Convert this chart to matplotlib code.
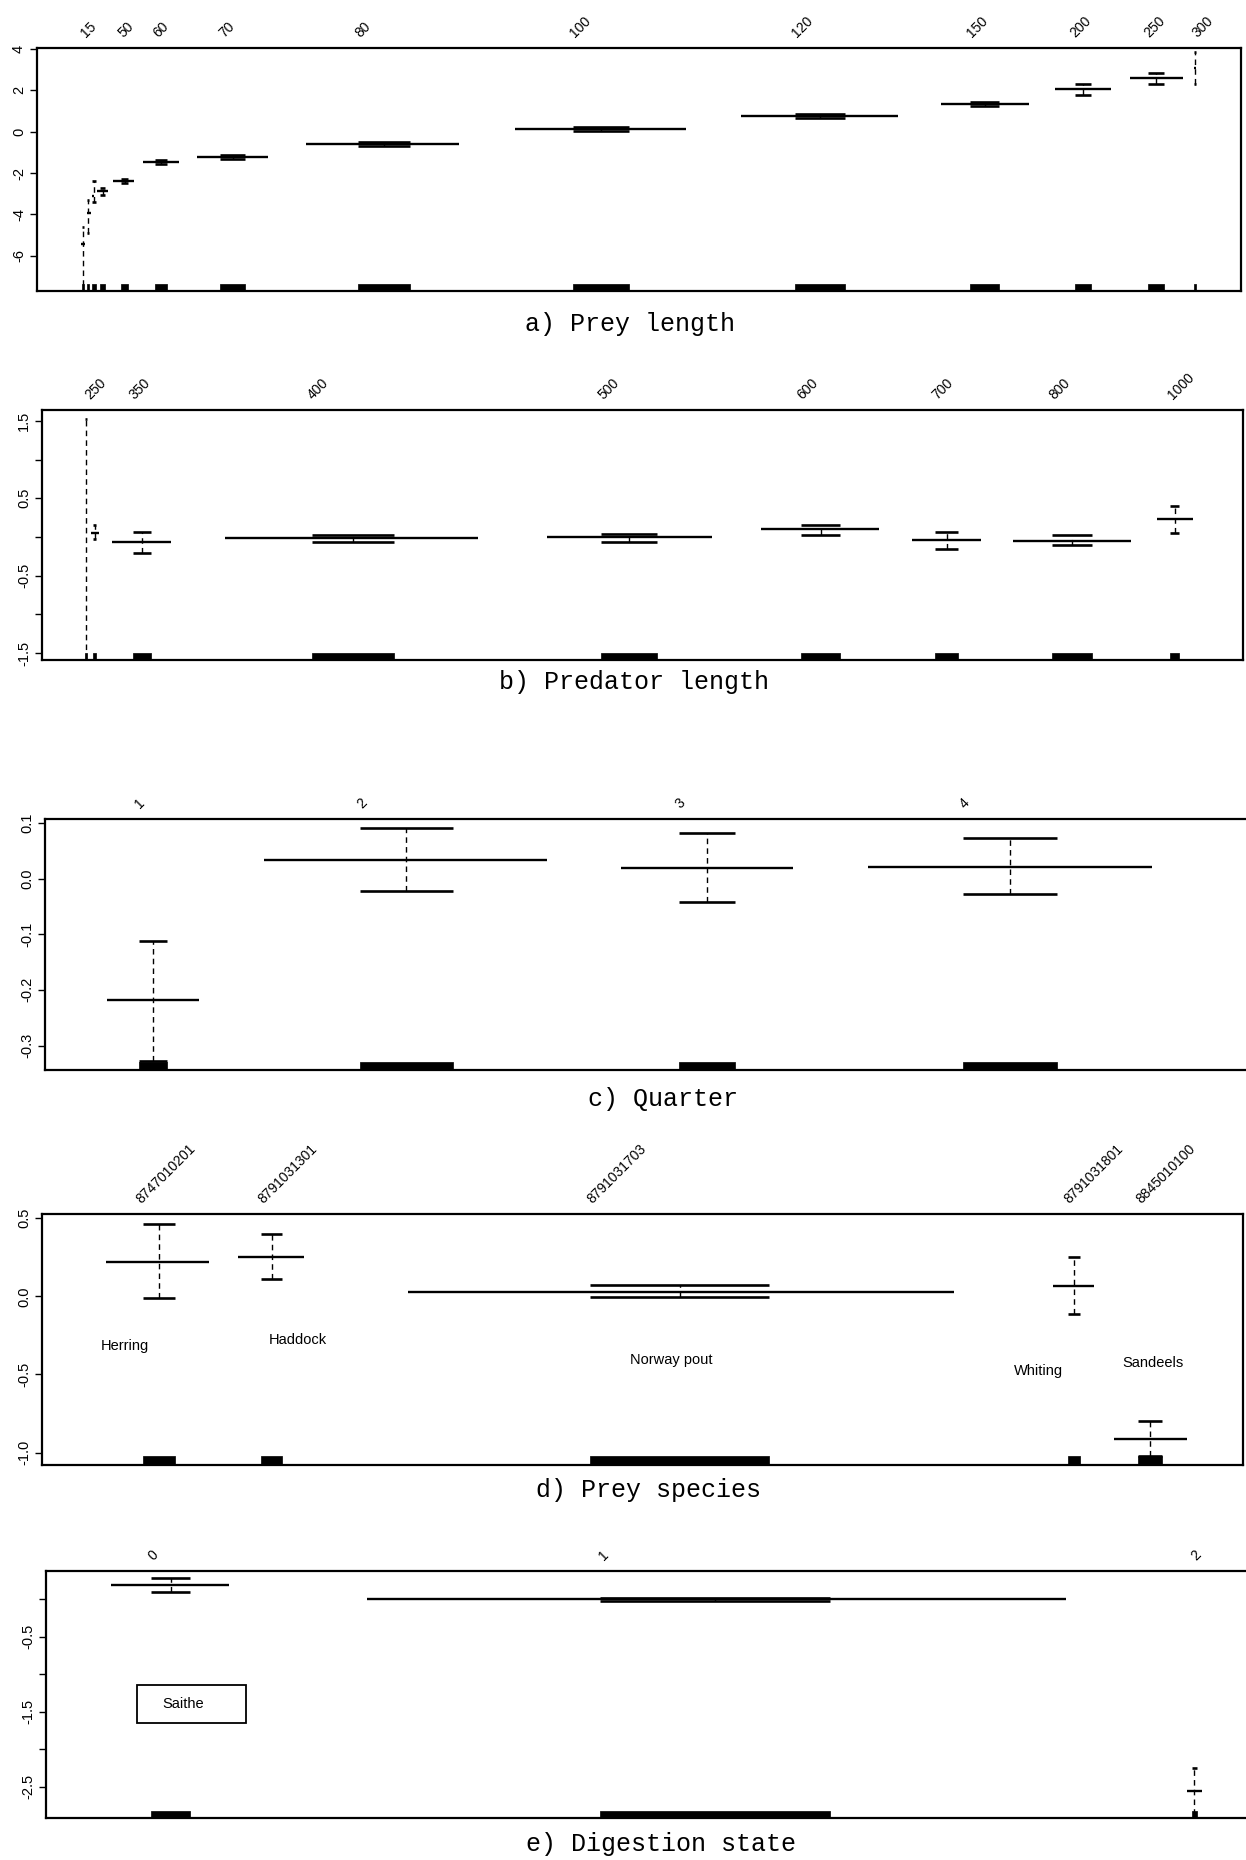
import matplotlib
matplotlib.use("Agg")
import matplotlib.pyplot as plt
from matplotlib.patches import Rectangle
import numpy as np

plt.rcParams["font.family"] = ["Liberation Sans", "DejaVu Sans"]

# ---------------- data (x = position on each panel's cumulative level scale) -------------
# a) Prey length
a_tick_pos = [89, 126, 161, 227, 363, 580, 802, 977, 1081, 1155, 1203]
a_tick_lab = ["15", "50", "60", "70", "80", "100", "120", "150", "200", "250", "300"]
a_eff = [-5.45, -3.95, -3.10, -2.86, -2.40, -1.48, -1.22, -0.60, 0.13, 0.78, 1.36, 2.07, 2.60, 3.08]
a_lo = [-7.90, -4.90, -3.40, -3.05, -2.50, -1.58, -1.32, -0.70, 0.03, 0.68, 1.26, 1.79, 2.32, 2.31]
a_hi = [-4.60, -3.30, -2.40, -2.72, -2.28, -1.38, -1.12, -0.50, 0.23, 0.88, 1.46, 2.33, 2.84, 3.86]
a_line_lo = [81, 87, 92, 97, 113, 143, 197, 306, 515, 741, 941, 1055, 1130, 1194]
a_line_hi = [85, 91, 94, 108, 134, 179, 268, 459, 686, 898, 1029, 1111, 1183, 1196]
a_rug_lo = [82, 87, 92, 100, 121, 155, 220, 358, 573, 795, 970, 1075, 1148, 1194]
a_rug_hi = [84, 89, 96, 105, 128, 167, 245, 410, 629, 845, 999, 1091, 1164, 1196]
a_yticks = [-6, -4, -2, 0, 2, 4]
a_ylab = ["-6", "-4", "-2", "0", "2", "4"]

# b) Predator length
b_tick_pos = [96, 140, 318, 609, 808, 943, 1060, 1181]
b_tick_lab = ["250", "350", "400", "500", "600", "700", "800", "1000"]
b_eff = [np.nan, 0.05, -0.07, -0.02, 0.00, 0.10, -0.04, -0.05, 0.23]
b_lo = [-1.70, -0.03, -0.21, -0.06, -0.06, 0.03, -0.15, -0.11, 0.05]
b_hi = [1.52, 0.16, 0.07, 0.03, 0.04, 0.16, 0.07, 0.03, 0.40]
b_line_lo = [86, 91, 112, 225, 547, 761, 912, 1013, 1157]
b_line_hi = [86, 99, 171, 478, 712, 879, 981, 1131, 1193]
b_rug_lo = [85, 93, 133, 312, 601, 801, 935, 1052, 1170]
b_rug_hi = [87, 96, 151, 394, 657, 840, 958, 1092, 1179]
b_yticks = [-1.5, -1.0, -0.5, 0.0, 0.5, 1.0, 1.5]
b_ylab = ["-1.5", "", "-0.5", "", "0.5", "", "1.5"]

# c) Quarter
c_tick_pos = [140, 362, 680, 965]
c_tick_lab = ["1", "2", "3", "4"]
c_eff = [-0.219, 0.034, 0.019, 0.021]
c_lo = [-0.328, -0.022, -0.043, -0.027]
c_hi = [-0.112, 0.090, 0.081, 0.072]
c_line_lo = [107, 264, 621, 868]
c_line_hi = [199, 547, 793, 1152]
c_rug_lo = [139, 360, 679, 963]
c_rug_hi = [167, 453, 735, 1057]
c_yticks = [-0.3, -0.2, -0.1, 0.0, 0.1]
c_ylab = ["-0.3", "-0.2", "-0.1", "0.0", "0.1"]

# d) Prey species
d_tick_pos = [166, 288, 617, 1094, 1166]
d_tick_lab = ["8747010201", "8791031301", "8791031703", "8791031801", "8845010100"]
d_species = ["Herring", "Haddock", "Norway pout", "Whiting", "Sandeels"]
d_name_x = [125, 298, 671, 1038, 1153]
d_name_y = [-0.316, -0.277, -0.405, -0.480, -0.425]
d_eff = [0.220, 0.254, 0.028, 0.068, -0.910]
d_lo = [-0.010, 0.110, -0.006, -0.115, -1.020]
d_hi = [0.465, 0.400, 0.073, 0.254, -0.800]
d_line_lo = [106, 238, 408, 1053, 1114]
d_line_hi = [209, 304, 954, 1094, 1187]
d_rug_lo = [143, 261, 590, 1068, 1138]
d_rug_hi = [175, 282, 769, 1080, 1162]
d_yticks = [-1.0, -0.5, 0.0, 0.5]
d_ylab = ["-1.0", "-0.5", "0.0", "0.5"]

# e) Digestion state
e_tick_pos = [153, 604, 1196]
e_tick_lab = ["0", "1", "2"]
e_eff = [0.19, 0.00, -2.56]
e_lo = [0.10, -0.025, -3.00]
e_hi = [0.29, 0.025, -2.25]
e_line_lo = [111, 367, 1187]
e_line_hi = [229, 1066, 1202]
e_rug_lo = [151, 600, 1192]
e_rug_hi = [190, 830, 1197]
e_yticks = [-2.5, -2.0, -1.5, -1.0, -0.5, 0.0]
e_ylab = ["-2.5", "", "-1.5", "", "-0.5", ""]
e_box_name = "Saithe"

# ---------------- figure ----------------
W, H, DPI = 1246, 1860, 100
fig = plt.figure(figsize=(W / DPI, H / DPI), dpi=DPI)
fig.patch.set_facecolor("white")


def make_axes(left, right, top, bottom):
    return fig.add_axes([left / W, 1 - bottom / H, (right - left) / W, (bottom - top) / H])


def draw_panel(ax, xlim, ylim, eff, lo, hi, line_lo, line_hi, rug_lo, rug_hi,
               tick_pos, tick_lab, yt, ytl, rug_h=0.027, xfs=10):
    ax.set_xlim(xlim)
    ax.set_ylim(ylim)
    for e, l, h, x0, x1, r0, r1 in zip(eff, lo, hi, line_lo, line_hi, rug_lo, rug_hi):
        c = (r0 + r1) / 2
        if not np.isnan(e):
            ax.hlines(e, x0, x1, colors="k", lw=1.7)
        ax.hlines([l, h], r0, r1, colors="k", lw=1.9)
        ax.vlines(c, l, h, colors="k", lw=1.0, linestyles=(0, (4, 3)))
    ax.broken_barh(list(zip(rug_lo, np.subtract(rug_hi, rug_lo))), (0, rug_h),
                   transform=ax.get_xaxis_transform(), facecolor="k", edgecolor="k", lw=0.5)
    ax.xaxis.tick_top()
    ax.set_xticks(tick_pos)
    ax.set_xticklabels(tick_lab, rotation=45, fontsize=xfs)
    ax.tick_params(axis="x", length=0, pad=6)
    ax.set_yticks(yt)
    ax.set_yticklabels(ytl, rotation=90, va="center", fontsize=10.5)
    ax.tick_params(axis="y", direction="out", length=5, width=1.0, pad=3)
    for s in ax.spines.values():
        s.set_linewidth(1.6)


axa = make_axes(37, 1241, 48, 291)
draw_panel(axa, (37, 1241), (-7.71, 4.05), a_eff, a_lo, a_hi, a_line_lo, a_line_hi,
           a_rug_lo, a_rug_hi, a_tick_pos, a_tick_lab, a_yticks, a_ylab)

axb = make_axes(42, 1243, 410, 660)
draw_panel(axb, (42, 1243), (-1.59, 1.64), b_eff, b_lo, b_hi, b_line_lo, b_line_hi,
           b_rug_lo, b_rug_hi, b_tick_pos, b_tick_lab, b_yticks, b_ylab)

axc = make_axes(45, 1262, 819, 1070)
draw_panel(axc, (45, 1262), (-0.344, 0.107), c_eff, c_lo, c_hi, c_line_lo, c_line_hi,
           c_rug_lo, c_rug_hi, c_tick_pos, c_tick_lab, c_yticks, c_ylab, rug_h=0.03)

axd = make_axes(42, 1243, 1214, 1465)
draw_panel(axd, (42, 1243), (-1.079, 0.526), d_eff, d_lo, d_hi, d_line_lo, d_line_hi,
           d_rug_lo, d_rug_hi, d_tick_pos, d_tick_lab, d_yticks, d_ylab, rug_h=0.035, xfs=10)
for name, x, y in zip(d_species, d_name_x, d_name_y):
    axd.text(x, y, name, ha="center", va="center", fontsize=10.5)

axe = make_axes(46, 1262, 1571, 1818)
draw_panel(axe, (46, 1262), (-2.92, 0.38), e_eff, e_lo, e_hi, e_line_lo, e_line_hi,
           e_rug_lo, e_rug_hi, e_tick_pos, e_tick_lab, e_yticks, e_ylab)
axe.add_patch(Rectangle((137, -1.654), 109, 0.508, fill=False, ec="k", lw=1.3))
axe.text(183, -1.40, e_box_name, ha="center", va="center", fontsize=10.5)

titles = ["a) Prey length", "b) Predator length", "c) Quarter", "d) Prey species", "e) Digestion state"]
title_xy = [(630, 324), (634, 682), (663, 1099), (649, 1490), (661, 1844)]
for t, (x, y) in zip(titles, title_xy):
    fig.text(x / W, 1 - y / H, t, ha="center", va="center",
             family=["Liberation Mono", "DejaVu Sans Mono"], fontsize=18)

fig.savefig("out.png", dpi=DPI)
